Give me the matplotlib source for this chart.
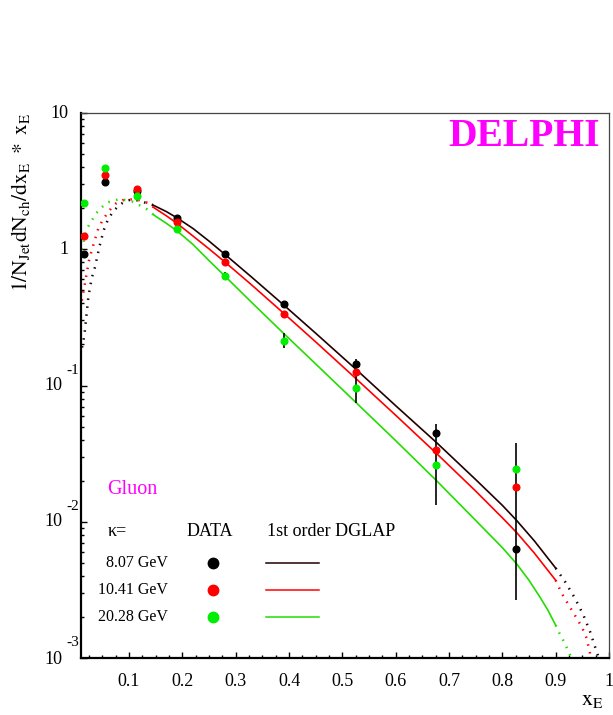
import numpy as np
import matplotlib
matplotlib.use('Agg')
from matplotlib import pyplot as plt
from matplotlib.lines import Line2D

plt.rcParams['font.family'] = ['Liberation Serif', 'DejaVu Serif']
plt.rcParams['mathtext.fontset'] = 'stix'

# datos
x_data = [0.015, 0.055, 0.115, 0.19, 0.28, 0.39, 0.525, 0.675, 0.825]
y_807 = [0.92, 3.13, 2.69, 1.69, 0.918, 0.396, 0.144, 0.0446, 0.00634]
y_1041 = [1.25, 3.51, 2.75, 1.59, 0.81, 0.335, 0.126, 0.0336, 0.0181]
y_2028 = [2.17, 3.93, 2.46, 1.41, 0.636, 0.212, 0.0953, 0.0261, 0.0244]

# barras de error
err_x = [0.28, 0.39, 0.525, 0.675, 0.825]
err_lo = [0.623, 0.187, 0.0748, 0.0133, 0.00267]
err_hi = [0.684, 0.241, 0.1556, 0.0519, 0.0376]

# curvas DGLAP (solido entre 0.145 y 0.9, punteado fuera)
cx_807 = [0.012, 0.0163, 0.0238, 0.030, 0.0363, 0.0444, 0.0526, 0.060, 0.0695, 0.0818,
          0.0944, 0.107, 0.119, 0.135, 0.145, 0.17, 0.19, 0.22, 0.25, 0.28, 0.33, 0.39,
          0.45, 0.527, 0.6, 0.677, 0.75, 0.8, 0.827, 0.86, 0.9,
          0.9176, 0.9363, 0.9519, 0.9645, 0.972, 0.979, 0.981]
cy_807 = [0.19, 0.233, 0.447, 0.612, 0.741, 1.04, 1.38, 1.63, 1.88, 2.11,
          2.27, 2.32, 2.27, 2.17, 2.11, 1.89, 1.70, 1.42, 1.148, 0.916, 0.624, 0.390,
          0.242, 0.130, 0.0711, 0.0380, 0.0204, 0.0132, 0.0102, 0.00724, 0.00457,
          0.00363, 0.00274, 0.00207, 0.00156, 0.00127, 0.00105, 0.001]

cx_1041 = [0.0115, 0.0133, 0.0195, 0.0257, 0.0339, 0.0414, 0.0489, 0.057, 0.0663, 0.0757,
           0.088, 0.104, 0.119, 0.135, 0.145, 0.17, 0.19, 0.22, 0.25, 0.28, 0.33, 0.39,
           0.45, 0.527, 0.6, 0.677, 0.75, 0.8, 0.827, 0.86, 0.9,
           0.9114, 0.930, 0.9488, 0.958, 0.9657, 0.966]
cy_1041 = [0.42, 0.459, 0.626, 0.855, 1.10, 1.38, 1.59, 1.78, 1.99, 2.17,
           2.29, 2.32, 2.29, 2.19, 2.04, 1.76, 1.55, 1.25, 1.007, 0.805, 0.547, 0.339,
           0.209, 0.111, 0.0605, 0.0316, 0.0168, 0.0107, 0.00832, 0.00589, 0.00372,
           0.00298, 0.00225, 0.0017, 0.0014, 0.00103, 0.001]

cx_2028 = [0.011, 0.0163, 0.0227, 0.030, 0.0382, 0.0463, 0.0537, 0.0631, 0.0725, 0.0837,
           0.0944, 0.107, 0.119, 0.134, 0.145, 0.17, 0.19, 0.22, 0.25, 0.28, 0.33, 0.39,
           0.45, 0.527, 0.6, 0.677, 0.75, 0.8, 0.827, 0.85, 0.87, 0.885, 0.9,
           0.907, 0.9176, 0.927, 0.929]
cy_2028 = [0.995, 1.20, 1.45, 1.62, 1.83, 1.99, 2.11, 2.23, 2.29, 2.33,
           2.29, 2.23, 2.11, 1.96, 1.80, 1.55, 1.365, 1.084, 0.826, 0.634, 0.407, 0.241,
           0.144, 0.0741, 0.0394, 0.01995, 0.01023, 0.00646, 0.0049, 0.00372, 0.00282, 0.00226, 0.00174,
           0.00152, 0.00127, 0.00105, 0.001]

energias = ['8.07 GeV', '10.41 GeV', '20.28 GeV']
col_pts = ['black', '#ff0000', '#00ee00']
col_lin = ['#200000', '#ff0000', '#22dd00']

x_ticks = [0.1, 0.2, 0.3, 0.4, 0.5, 0.6, 0.7, 0.8, 0.9, 1.0]
x_ticklabels = ['0.1', '0.2', '0.3', '0.4', '0.5', '0.6', '0.7', '0.8', '0.9', '1']
y_ticks = [1e-3, 1e-2, 1e-1, 1, 10]
y_exp = ['-3', '-2', '-1', None, None]
y_base = ['10', '10', '10', '1', '10']

W, H = 613, 715


def px(x, y):   # pixeles de la imagen -> fraccion de figura
    return x / W, 1 - y / H


fig = plt.figure(figsize=(W / 100, H / 100), dpi=100)
l, b = px(81, 658)
r, t = px(609, 113)
ax = fig.add_axes([l, b, r - l, t - b])
ax.set_yscale('log')
ax.set_xlim(0.01, 1.0)
ax.set_ylim(1e-3, 10)

# curvas
curvas = [(cx_807, cy_807), (cx_1041, cy_1041), (cx_2028, cy_2028)]
for (cx, cy), c in zip(curvas, col_lin):
    cx = np.array(cx)
    cy = np.array(cy)
    sol = (cx >= 0.145) & (cx <= 0.9)
    bajo = cx <= 0.145
    alto = cx >= 0.9
    ax.plot(cx[sol], cy[sol], '-', color=c, lw=1.2)
    ax.plot(cx[bajo], cy[bajo], color=c, lw=1.8, linestyle=(0, (0.6, 2.6)))
    ax.plot(cx[alto], cy[alto], color=c, lw=1.8, linestyle=(0, (0.6, 2.6)))

# barras de error
ax.vlines(err_x, err_lo, err_hi, color='black', lw=1.2, zorder=3)

# puntos
for yv, c in zip([y_807, y_1041, y_2028], col_pts):
    ax.plot(x_data, yv, 'o', color=c, ms=4.8, mec=c, zorder=4)

# ejes
ax.set_xticks(x_ticks)
ax.set_xticklabels(x_ticklabels, fontsize=13)
ax.xaxis.set_minor_locator(matplotlib.ticker.MultipleLocator(0.025))
ax.tick_params(axis='both', which='both', direction='in', top=False, right=False)
ax.tick_params(axis='both', which='major', length=4.5, width=1)
ax.tick_params(axis='both', which='minor', length=2.2, width=1)
ax.tick_params(axis='x', which='major', pad=11)
ax.set_yticks(y_ticks)
ax.yaxis.set_minor_locator(matplotlib.ticker.LogLocator(base=10, subs=np.arange(2, 10)))
ax.set_yticklabels([])
ax.yaxis.set_minor_formatter(matplotlib.ticker.NullFormatter())
for s in ['left', 'bottom']:
    ax.spines[s].set_linewidth(1.6)
for s in ['top', 'right']:
    ax.spines[s].set_linewidth(0.9)
    ax.spines[s].set_color('#444444')

# etiquetas del eje y estilo ROOT
trans = ax.get_yaxis_transform()
for v, base, e in zip(y_ticks, y_base, y_exp):
    if e is None:
        ax.text(-0.024, v, base, transform=trans, ha='right', va='center', fontsize=13)
    else:
        yb = v * 10 ** (-2 / 136.25) if v == 1e-3 else v
        ax.text(-0.036, yb, base, transform=trans, ha='right', va='center', fontsize=13)
        ax.text(-0.028, v * 10 ** (15 / 136.25), e, transform=trans, ha='left', va='center', fontsize=11)

# titulos de ejes
fig.text(*px(604, 701), r'$\mathrm{x_{E}}$', ha='right', va='center', fontsize=16)
fig.text(*px(9, 113), r'$\mathrm{1/N_{Jet}dN_{ch}/dx_{E}\ *\ x_{E}}$', rotation=90,
         ha='left', va='top', fontsize=15.5)

fig.text(*px(600, 137), 'DELPHI', color='#ff00ff', fontsize=28.5, fontweight='bold',
         ha='right', va='center')
fig.text(*px(107, 490), 'Gluon', color='#ff00ff', fontsize=14.5, ha='left', va='center')

# leyenda
fig.text(*px(108, 531), 'κ=', fontsize=13, ha='left', va='center')
fig.text(*px(187, 531), 'DATA', fontsize=13, ha='left', va='center')
fig.text(*px(267, 531), '1st order DGLAP', fontsize=13, ha='left', va='center')
filas = [563, 590, 617]
for lab, yy, cp, cl in zip(energias, filas, col_pts, col_lin):
    fig.text(*px(168, yy), lab, fontsize=11.5, ha='right', va='center')
    fx, fy = px(213, yy)
    fig.add_artist(Line2D([fx], [fy], marker='o', ms=7.5, color=cp, mec=cp))
    x1, y1 = px(266, yy)
    x2, _ = px(319, yy)
    fig.add_artist(Line2D([x1, x2], [y1, y1], color=cl, lw=1.1))

fig.savefig('out.png', dpi=100, facecolor='white')
